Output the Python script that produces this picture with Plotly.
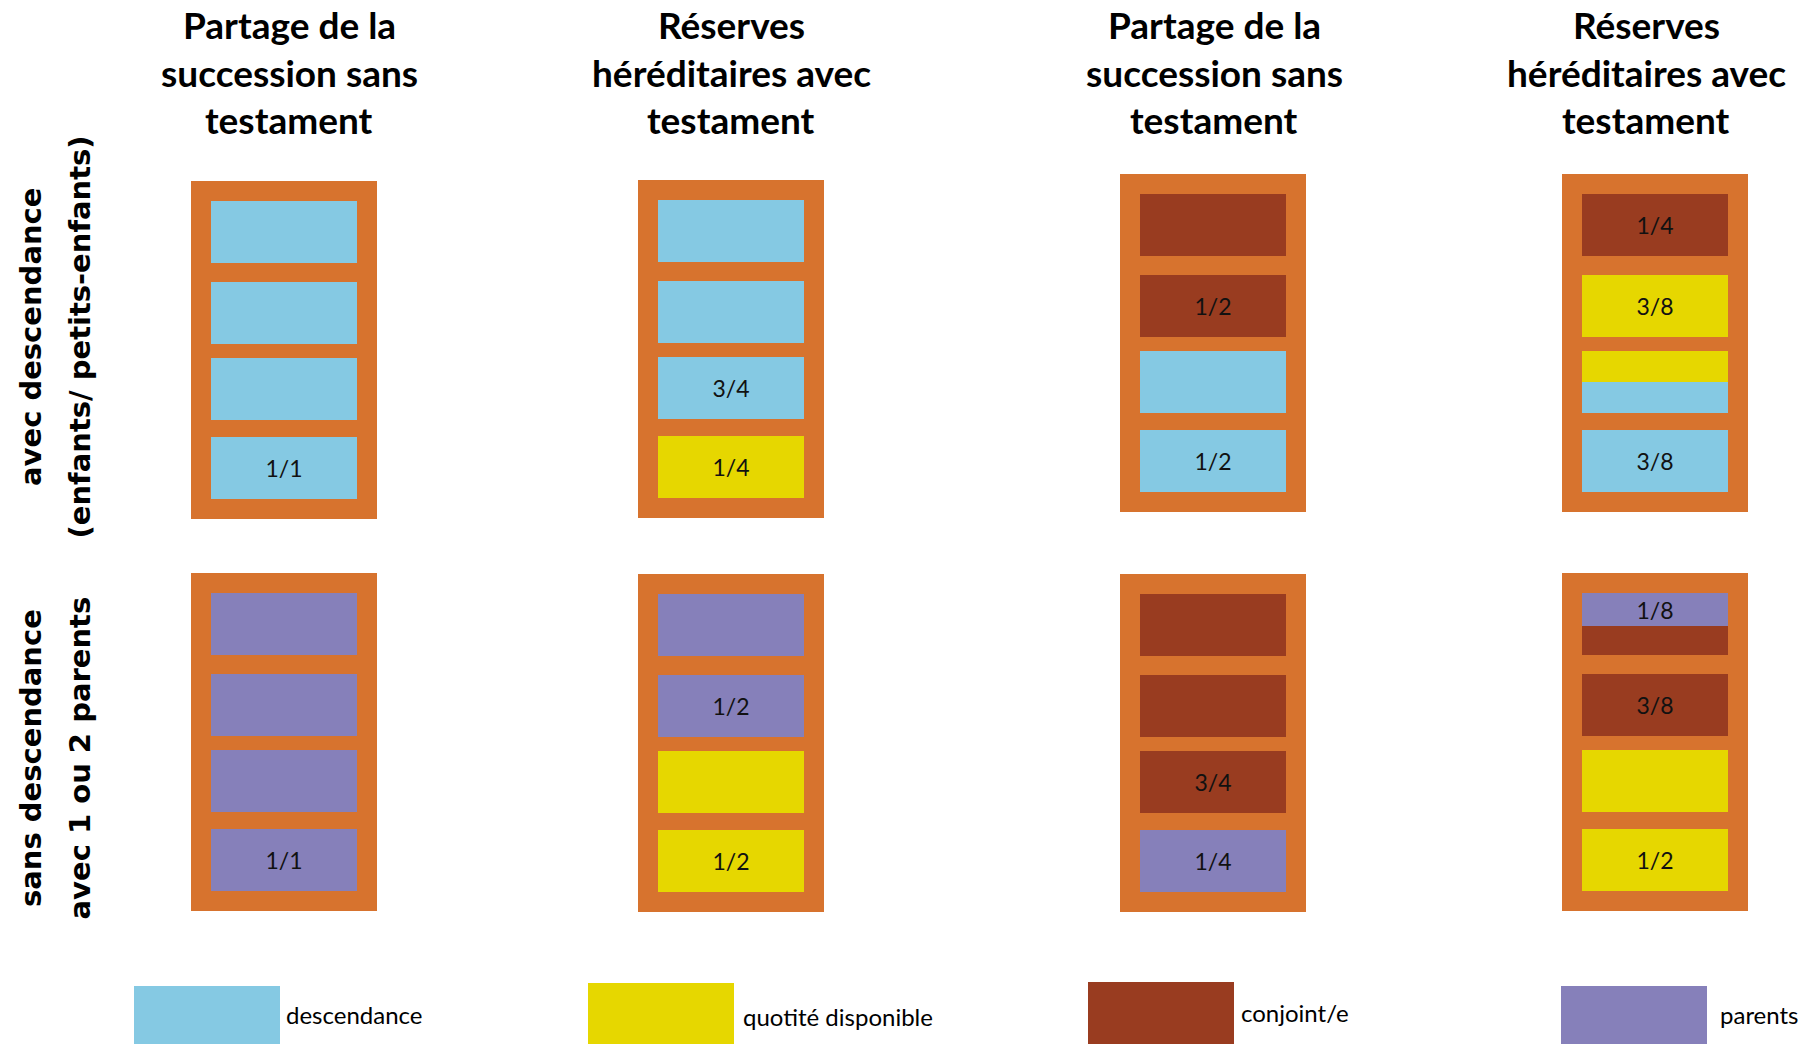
import plotly.graph_objects as go

# ---------------- DATA ----------------
column_titles = [
    ["Partage de la", "succession sans", "testament"],
    ["Réserves", "héréditaires avec", "testament"],
    ["Partage de la", "succession sans", "testament"],
    ["Réserves", "héréditaires avec", "testament"],
]
row_labels = [
    ["avec descendance", "(enfants/ petits-enfants)"],
    ["sans descendance", "avec 1 ou 2 parents"],
]
heirs = ["descendance", "quotité disponible", "conjoint/e", "parents"]

# each panel = 4 quarters of the estate (top -> bottom);
# each quarter = list of (heir, share of the quarter, fraction label)
row1_panels = [
    [[("descendance", 1, "")], [("descendance", 1, "")], [("descendance", 1, "")], [("descendance", 1, "1/1")]],
    [[("descendance", 1, "")], [("descendance", 1, "")], [("descendance", 1, "3/4")], [("quotité disponible", 1, "1/4")]],
    [[("conjoint/e", 1, "")], [("conjoint/e", 1, "1/2")], [("descendance", 1, "")], [("descendance", 1, "1/2")]],
    [[("conjoint/e", 1, "1/4")], [("quotité disponible", 1, "3/8")],
     [("quotité disponible", 0.5, ""), ("descendance", 0.5, "")], [("descendance", 1, "3/8")]],
]
row2_panels = [
    [[("parents", 1, "")], [("parents", 1, "")], [("parents", 1, "")], [("parents", 1, "1/1")]],
    [[("parents", 1, "")], [("parents", 1, "1/2")], [("quotité disponible", 1, "")], [("quotité disponible", 1, "1/2")]],
    [[("conjoint/e", 1, "")], [("conjoint/e", 1, "")], [("conjoint/e", 1, "3/4")], [("parents", 1, "1/4")]],
    [[("parents", 0.53, "1/8"), ("conjoint/e", 0.47, "")], [("conjoint/e", 1, "3/8")],
     [("quotité disponible", 1, "")], [("quotité disponible", 1, "1/2")]],
]
rows = [row1_panels, row2_panels]

# ---------------- LAYOUT / STYLE ----------------
W, H = 1810, 1044
colors = {
    "descendance": "#85C9E3",
    "quotité disponible": "#E6D700",
    "conjoint/e": "#993C20",
    "parents": "#8680BA",
}
FRAME = "#D7732E"
panel_left = [[191, 638, 1120, 1562], [191, 638, 1120, 1562]]
panel_top = [[181, 180, 174, 174], [573, 574, 574, 573]]
PANEL_W, PANEL_H = 186, 338
CELL_W, CELL_H = 146, 62
slot_offsets = [20, 101, 177, 256]
title_x = [289, 731, 1214, 1646]
title_line_y = [24, 72, 119]
row_label_y = [337, 758]
row_label_x = [31, 79.5]
legend_left = [134, 588, 1088, 1561]
legend_top = [986, 983, 982, 986]
legend_text_x = [284, 741, 1239, 1718]
legend_text_y = [1014, 1016, 1012.5, 1014]

fig = go.Figure()

# frames
fx, fb, fh, fw = [], [], [], []
for r in range(2):
    for c in range(4):
        fx.append(panel_left[r][c] + PANEL_W / 2)
        fb.append(panel_top[r][c])
        fh.append(PANEL_H)
        fw.append(PANEL_W)
fig.add_trace(go.Bar(x=fx, y=fh, base=fb, width=fw, marker=dict(color=FRAME, line=dict(width=0)),
                     hoverinfo="skip", showlegend=False))

# cells
cells = {h: dict(x=[], base=[], y=[], w=[]) for h in heirs}
lab_x, lab_y, lab_t = [], [], []
for r, panels in enumerate(rows):
    for c, panel in enumerate(panels):
        cx = panel_left[r][c] + PANEL_W / 2
        for s, quarter in enumerate(panel):
            y0 = panel_top[r][c] + slot_offsets[s]
            for heir, share, label in quarter:
                hgt = CELL_H * share
                d = cells[heir]
                d["x"].append(cx); d["base"].append(y0); d["y"].append(hgt); d["w"].append(CELL_W)
                if label:
                    lab_x.append(cx); lab_y.append(y0 + hgt / 2 + 3.5); lab_t.append(label)
                y0 += hgt

for h in heirs:
    d = cells[h]
    fig.add_trace(go.Bar(x=d["x"], y=d["y"], base=d["base"], width=d["w"],
                         marker=dict(color=colors[h], line=dict(width=0)),
                         hoverinfo="skip", showlegend=False))

# legend swatches
fig.add_trace(go.Bar(x=[l + CELL_W / 2 for l in legend_left],
                     y=[H + 20 - t for t in legend_top], base=legend_top,
                     width=[CELL_W] * 4,
                     marker=dict(color=[colors[h] for h in heirs], line=dict(width=0)),
                     hoverinfo="skip", showlegend=False))

fig.add_trace(go.Scatter(x=lab_x, y=lab_y, text=lab_t, mode="text",
                         textposition="middle center",
                         textfont=dict(family="Lato", size=23, color="#111111"),
                         hoverinfo="skip", showlegend=False))

annotations = []
for c, lines in enumerate(column_titles):
    for i, line in enumerate(lines):
        annotations.append(dict(x=title_x[c], y=title_line_y[i], text=line, showarrow=False,
                                xref="x", yref="y", xanchor="center", yanchor="middle",
                                font=dict(family="Lato", size=37, color="#000000", weight="bold")))
for r, lines in enumerate(row_labels):
    for i, line in enumerate(lines):
        annotations.append(dict(x=row_label_x[i], y=row_label_y[r], text="<b>" + line + "</b>",
                                showarrow=False, textangle=-90, xref="x", yref="y",
                                xanchor="center", yanchor="middle",
                                font=dict(family="DejaVu Sans", size=29, color="#000000")))
for i, h in enumerate(heirs):
    annotations.append(dict(x=legend_text_x[i], y=legend_text_y[i], text=h, showarrow=False,
                            xref="x", yref="y", xanchor="left", yanchor="middle",
                            font=dict(family="Lato", size=24, color="#000000")))

fig.update_layout(
    width=W, height=H, margin=dict(l=0, r=0, t=0, b=0),
    paper_bgcolor="white", plot_bgcolor="white",
    barmode="overlay", bargap=0,
    xaxis=dict(range=[0, W], visible=False, fixedrange=True),
    yaxis=dict(range=[H, 0], visible=False, fixedrange=True),
    annotations=annotations, showlegend=False,
)

fig.write_html("out.html", config={"displayModeBar": False},
               post_script="document.body.style.margin='0';document.body.style.padding='0';document.body.style.overflow='hidden';")
